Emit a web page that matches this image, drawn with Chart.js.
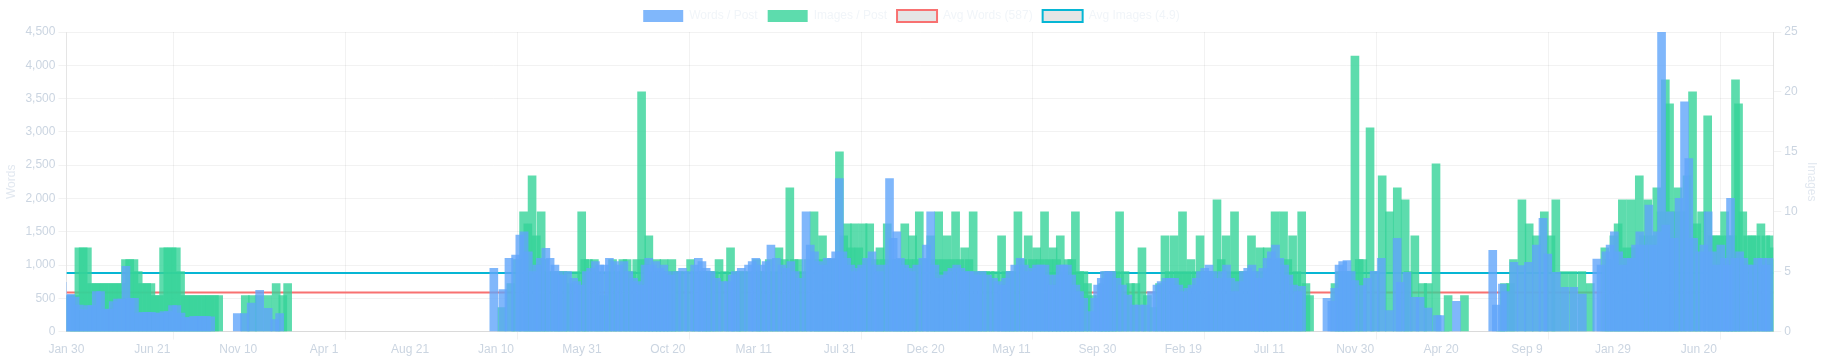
<!DOCTYPE html>
<html><head><meta charset="utf-8">
<script src="https://cdn.jsdelivr.net/npm/chart.js@4.4.1/dist/chart.umd.min.js"></script>
<style>html,body{margin:0;padding:0;background:#fff}#wrap{width:1823px;height:360px;position:relative}</style>
</head><body><div id="wrap"><canvas id="c"></canvas></div>
<script>
const postDates = [
'2018-01-30','2018-02-06','2018-02-13','2018-02-20','2018-02-27','2018-03-06','2018-03-13','2018-03-20','2018-03-27','2018-04-03','2018-04-10','2018-04-17','2018-04-24','2018-05-01','2018-05-08','2018-05-15','2018-05-22','2018-05-29','2018-06-05','2018-06-12','2018-06-19','2018-06-26','2018-07-03','2018-07-10','2018-07-17','2018-07-24','2018-07-31','2018-08-07','2018-08-14','2018-08-21','2018-08-28','2018-09-04','2018-09-11','2018-09-18','2018-09-25','2018-10-02',
'2018-11-15','2018-11-27','2018-12-08','2018-12-22','2019-01-05','2019-01-16','2019-01-24',
'2020-01-13','2020-01-28','2020-02-07','2020-02-18','2020-02-25','2020-03-03','2020-03-10','2020-03-18','2020-03-24','2020-03-30','2020-04-08','2020-04-15','2020-04-23','2020-04-29','2020-05-05','2020-05-14','2020-05-24','2020-05-29','2020-06-04','2020-06-14','2020-06-21','2020-06-29','2020-07-06','2020-07-14','2020-07-22','2020-07-31','2020-08-07','2020-08-15','2020-08-23','2020-08-31','2020-09-06','2020-09-12','2020-09-19','2020-09-25','2020-10-01','2020-10-07','2020-10-14','2020-10-20','2020-10-26','2020-11-01','2020-11-10','2020-11-20','2020-11-30','2020-12-10','2020-12-16','2020-12-22','2020-12-29',
'2021-01-06','2021-01-15','2021-01-25','2021-02-04','2021-02-10','2021-02-15','2021-02-25','2021-03-09','2021-03-15','2021-03-21','2021-03-30','2021-04-07','2021-04-15','2021-04-24','2021-05-03','2021-05-10','2021-05-18','2021-05-25','2021-06-02','2021-06-12','2021-06-19','2021-06-26','2021-07-03','2021-07-10','2021-07-17','2021-07-24','2021-07-31','2021-08-06','2021-08-12','2021-08-18','2021-08-25','2021-09-01','2021-09-06','2021-09-12','2021-09-20','2021-09-29','2021-10-05','2021-10-11','2021-10-19','2021-10-28','2021-11-03','2021-11-09','2021-11-15','2021-11-22','2021-11-28','2021-12-03','2021-12-12','2021-12-22','2021-12-28',
'2022-01-04','2022-01-11','2022-01-18','2022-01-25','2022-02-01','2022-02-08','2022-02-16','2022-02-23','2022-03-02','2022-03-09','2022-03-17','2022-03-23','2022-03-30','2022-04-08','2022-04-18','2022-04-25','2022-05-02','2022-05-08','2022-05-15','2022-05-23','2022-06-01','2022-06-08','2022-06-15','2022-06-21','2022-06-28','2022-07-05','2022-07-12','2022-07-18','2022-07-24','2022-07-31','2022-08-06','2022-08-12','2022-08-18','2022-08-25','2022-09-01','2022-09-07','2022-09-14','2022-09-26','2022-10-02','2022-10-07','2022-10-13','2022-10-18','2022-10-24','2022-10-30','2022-11-08','2022-11-17','2022-11-26','2022-12-06','2022-12-15','2022-12-25',
'2023-01-04','2023-01-13','2023-01-20','2023-01-28','2023-02-04','2023-02-11','2023-02-18','2023-02-25','2023-03-05','2023-03-12','2023-03-19','2023-03-26','2023-04-02','2023-04-09','2023-04-16','2023-04-24','2023-05-01','2023-05-08','2023-05-15','2023-05-22','2023-05-29','2023-06-05','2023-06-12','2023-06-19','2023-06-25','2023-07-01','2023-07-07','2023-07-14','2023-07-21','2023-07-28','2023-08-04','2023-08-12','2023-08-19','2023-08-27','2023-09-03','2023-09-09',
'2023-10-21','2023-10-29','2023-11-03','2023-11-10','2023-11-16','2023-11-23','2023-11-30','2023-12-06','2023-12-18','2023-12-27','2024-01-07','2024-01-19','2024-02-01','2024-02-14','2024-02-19','2024-03-01','2024-03-14','2024-03-23','2024-04-05','2024-04-20','2024-04-25','2024-05-22',
'2024-07-21','2024-07-27','2024-08-06','2024-08-11','2024-08-25','2024-09-06','2024-09-18','2024-10-01','2024-10-12','2024-10-20','2024-11-03','2024-11-17','2024-12-02','2024-12-16',
'2025-01-09','2025-01-16','2025-01-24','2025-01-31','2025-02-07','2025-02-14','2025-02-21','2025-02-28','2025-03-07','2025-03-14','2025-03-21','2025-03-28','2025-04-05','2025-04-12','2025-04-19','2025-04-26','2025-05-03','2025-05-10','2025-05-17','2025-05-25','2025-06-03','2025-06-10','2025-06-18','2025-06-28','2025-07-05','2025-07-12','2025-07-19','2025-07-26','2025-08-02','2025-08-08','2025-08-13','2025-08-18','2025-08-25','2025-09-02','2025-09-09','2025-09-16','2025-09-24','2025-10-02','2025-10-10','2025-10-16','2025-10-21'
];
const wordsPerPost = [
740,540,560,520,400,330,390,390,600,600,330,340,450,490,490,980,500,500,280,290,290,290,280,280,300,300,390,390,280,210,210,230,230,230,230,220,
270,270,430,620,350,180,270,
950,630,1100,1150,1450,1500,1200,900,1000,1100,1250,1100,1000,900,850,900,800,750,700,900,950,1050,1000,1000,1100,1050,1000,1050,900,800,750,700,1000,1100,1000,1050,950,1000,900,850,900,950,900,1000,1100,1050,950,
900,800,750,750,850,900,950,1000,1050,1100,1000,1050,1300,1100,1000,950,1050,900,800,1800,1300,1200,1050,1000,1100,1100,1200,2300,1200,1100,1000,900,950,1000,1100,1200,1000,900,1000,2300,1400,1500,1100,1000,950,900,1000,1100,1300,
1800,1000,800,850,900,950,1000,950,900,900,900,850,900,850,800,750,700,800,900,1000,1100,1000,900,950,1000,1000,1000,850,700,850,1000,1000,1000,850,700,600,500,300,500,700,800,900,900,900,800,700,550,400,400,400,
600,700,750,800,800,800,700,600,650,700,800,900,950,1000,900,800,900,1000,800,600,750,900,950,1000,900,800,950,1100,1200,1300,1100,1000,850,700,600,680,
500,455,650,1000,1050,1065,900,765,690,800,905,1100,315,1400,740,890,515,515,355,240,240,455,
1220,400,715,600,1040,990,1040,1300,1700,1165,890,665,665,565,
1090,1000,1200,1300,1500,1200,1000,1100,1100,1300,1500,1300,1900,1300,1500,4500,1600,1800,1400,2000,3450,2600,1400,1200,1300,1800,1200,1000,1300,1100,1000,2000,1100,1200,1100,1000,1000,1100,1100,1000,1100
];
const imagesPerPost = [
3,3,7,7,7,4,4,4,4,4,4,4,4,6,6,6,5,4,4,4,3,3,7,7,7,7,5,3,3,3,3,3,3,3,3,3,
3,3,3,3,4,3,4,
2,4,6,10,9,13,8,10,6,5,5,5,5,5,4,5,10,6,6,6,5,3,5,6,5,6,6,5,6,20,6,8,5,6,5,6,5,6,5,5,5,6,5,5,5,5,5,
6,5,7,5,5,5,5,6,5,5,6,5,7,6,12,6,6,5,6,10,6,8,6,6,6,15,8,9,7,9,7,9,6,9,6,7,6,9,6,6,6,9,6,8,6,10,6,8,6,
10,6,8,6,10,6,7,6,10,5,5,5,5,5,8,5,5,5,10,6,8,6,7,6,10,6,7,6,8,5,6,6,10,5,5,4,3,3,4,5,5,5,5,10,5,4,4,7,3,2,
4,8,5,8,5,10,5,6,5,8,5,5,5,11,6,8,5,10,5,5,5,8,5,7,5,7,6,10,6,10,6,8,5,10,4,3,
4,5,5,5,5,23,6,6,17,5,13,10,12,11,5,8,4,4,14,0,3,3,
0,4,4,6,11,9,8,10,8,11,5,5,5,4,
7,6,8,9,11,7,11,7,13,8,11,8,12,10,21,19,10,12,10,13,20,9,10,18,8,8,8,10,8,8,21,19,10,8,8,8,9,8,8,7,6
];
const avgWords = 587;
const avgImages = 4.9;
const tickLabels = ['Jan 30','Jun 21','Nov 10','Apr 1','Aug 21','Jan 10','May 31','Oct 20','Mar 11','Jul 31','Dec 20','May 11','Sep 30','Feb 19','Jul 11','Nov 30','Apr 20','Sep 9','Jan 29','Jun 20'];
const labelStepDays = 142;

const DAY = 86400000;
const t0 = Date.parse(postDates[0] + 'T00:00:00Z');
const xs = postDates.map(d => (Date.parse(d + 'T00:00:00Z') - t0) / DAY);
const xMax = xs[xs.length - 1];
const half = labelStepDays / 2;

const tickColor = '#cbd5e1';
const gridColor = 'rgba(0,0,0,0.05)';

new Chart(document.getElementById('c'), {
  type: 'bar',
  data: {
    datasets: [
      { label: 'Words / Post', data: xs.map((x, i) => ({ x, y: wordsPerPost[i] })), yAxisID: 'y',
        backgroundColor: 'rgba(96,165,250,0.8)', borderWidth: 0, barThickness: 8 },
      { label: 'Images / Post', data: xs.map((x, i) => ({ x, y: imagesPerPost[i] })), yAxisID: 'y1',
        backgroundColor: 'rgba(52,211,153,0.8)', borderWidth: 0, barThickness: 8 },
      { type: 'line', label: 'Avg Words (' + avgWords + ')', data: [{ x: 0, y: avgWords }, { x: xMax, y: avgWords }],
        yAxisID: 'y', borderColor: '#f87171', borderWidth: 2, pointRadius: 0 },
      { type: 'line', label: 'Avg Images (' + avgImages + ')', data: [{ x: 0, y: avgImages }, { x: xMax, y: avgImages }],
        yAxisID: 'y1', borderColor: '#06b6d4', borderWidth: 2, pointRadius: 0 }
    ]
  },
  options: {
    responsive: true, maintainAspectRatio: false, animation: false,
    plugins: {
      legend: { labels: { color: '#f1f5f9', boxWidth: 40, font: { size: 12 } } },
      tooltip: { enabled: false }
    },
    scales: {
      x: {
        type: 'linear', min: 0, max: xMax, offset: false,
        afterBuildTicks: (scale) => {
          const t = [];
          for (let v = 0; v <= xMax; v += half) t.push({ value: v });
          scale.ticks = t;
        },
        ticks: {
          color: tickColor, autoSkip: false, maxRotation: 0,
          callback: (v) => { const j = Math.round(v / half); return j % 2 === 0 ? (tickLabels[j / 2] || '') : ''; }
        },
        grid: {
          color: (ctx) => (ctx.tick && Math.round(ctx.tick.value / half) % 4 === 3) ? gridColor : 'rgba(0,0,0,0)'
        }
      },
      y: {
        position: 'left', min: 0, max: 4500,
        ticks: { stepSize: 500, color: tickColor },
        grid: { color: gridColor },
        title: { display: true, text: 'Words', color: '#e2e8f0' }
      },
      y1: {
        position: 'right', min: 0, max: 25,
        ticks: { stepSize: 5, color: tickColor },
        grid: { drawOnChartArea: false, color: gridColor },
        title: { display: true, text: 'Images', color: '#e2e8f0' }
      }
    }
  }
});
</script>
</body></html>
